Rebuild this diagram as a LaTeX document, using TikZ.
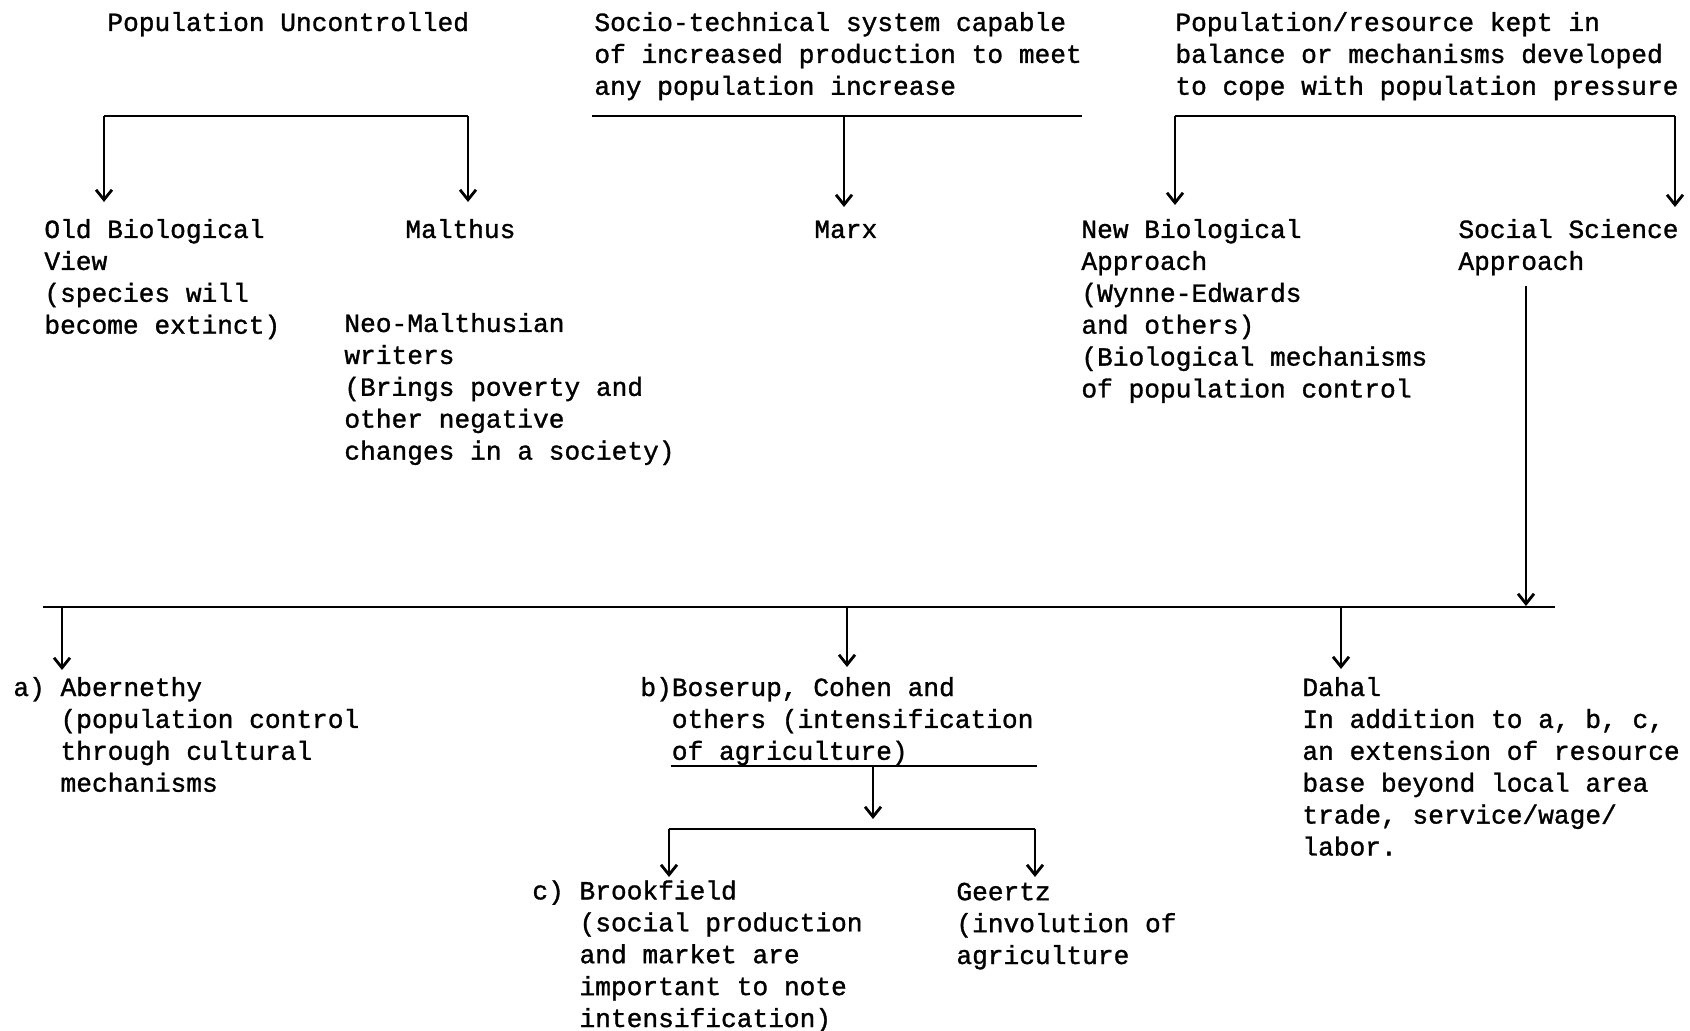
\documentclass[tikz,border=0pt]{standalone}
\usepackage{fontspec}
\setmonofont{Liberation Mono}[FakeBold=1.2]
\usetikzlibrary{arrows.meta}
\begin{document}
\begin{tikzpicture}[x=0.5pt,y=-0.5pt,
  txt/.style={font=\ttfamily\fontsize{13.1}{15.95}\selectfont, anchor=base west, inner sep=0pt, align=left},
  conn/.style={line width=1.4pt},
  arr/.style={conn, -{Straight Barb[length=5pt,width=8pt]}}]
\useasboundingbox (0,0) rectangle (1690,1031);
% texts (placed at the baseline of their last line)
\node[txt] (pu) at (107,31) {Population Uncontrolled};
\node[txt] (st) at (594,94.8) {Socio-technical system capable\\of increased production to meet\\any population increase};
\node[txt] (pr) at (1175,94.8) {Population/resource kept in\\balance or mechanisms developed\\to cope with population pressure};
\node[txt] (obv) at (44,333.7) {Old Biological\\View\\(species will\\become extinct)};
\node[txt] (mal) at (405,238) {Malthus};
\node[txt] (neo) at (344,459.6) {Neo-Malthusian\\writers\\(Brings poverty and\\other negative\\changes in a society)};
\node[txt] (marx) at (814,238) {Marx};
\node[txt] (nba) at (1081,397.5) {New Biological\\Approach\\(Wynne-Edwards\\and others)\\(Biological mechanisms\\of population control};
\node[txt] (ssa) at (1458,269.9) {Social Science\\Approach};
\node[txt] (ab) at (13,791.7) {a)~Abernethy\\\hphantom{a)~}(population control\\\hphantom{a)~}through cultural\\\hphantom{a)~}mechanisms};
\node[txt] (bos) at (640,759.8) {b)Boserup, Cohen and\\\hphantom{b)}others (intensification\\\hphantom{b)}of agriculture)};
\node[txt] (dah) at (1302,855.5) {Dahal\\In addition to a, b, c,\\an extension of resource\\base beyond local area\\trade, service/wage/\\labor.};
\node[txt] (bro) at (532,1027) {c)~Brookfield\\\hphantom{c)~}(social production\\\hphantom{c)~}and market are\\\hphantom{c)~}important to note\\\hphantom{c)~}intensification)};
\node[txt] (gee) at (956,964) {Geertz\\(involution of\\agriculture};
% bracket 1
\coordinate (l1a) at (104,116); \coordinate (l1b) at (468,116);
\coordinate (t1a) at (104,202); \coordinate (t1b) at (468,202);
\draw[conn] (l1a) -- (l1b);
\draw[arr] (l1a) -- (t1a);
\draw[arr] (l1b) -- (t1b);
% bracket 2
\coordinate (l2a) at (592,116); \coordinate (l2b) at (1082,116);
\coordinate (l2m) at (844,116); \coordinate (t2m) at (844,207);
\draw[conn] (l2a) -- (l2b);
\draw[arr] (l2m) -- (t2m);
% bracket 3
\coordinate (l3a) at (1175,116); \coordinate (l3b) at (1675,116);
\coordinate (t3a) at (1175,205); \coordinate (t3b) at (1675,207);
\draw[conn] (l3a) -- (l3b);
\draw[arr] (l3a) -- (t3a);
\draw[arr] (l3b) -- (t3b);
% social science down
\coordinate (ss0) at (1526,286); \coordinate (ss1) at (1526,606);
\draw[arr] (ss0) -- (ss1);
% bottom line
\coordinate (l4a) at (43,607); \coordinate (l4b) at (1555,607);
\draw[conn] (l4a) -- (l4b);
\coordinate (d1) at (62,607); \coordinate (e1) at (62,670);
\coordinate (d2) at (847,607); \coordinate (e2) at (847,667);
\coordinate (d3) at (1341,607); \coordinate (e3) at (1341,669);
\draw[arr] (d1) -- (e1);
\draw[arr] (d2) -- (e2);
\draw[arr] (d3) -- (e3);
% underline b
\coordinate (u1) at (671,766); \coordinate (u2) at (1037,766);
\draw[conn] (u1) -- (u2);
\coordinate (um) at (873,766); \coordinate (ut) at (873,819);
\draw[arr] (um) -- (ut);
% bracket c
\coordinate (l5a) at (669,829); \coordinate (l5b) at (1035,829);
\coordinate (t5a) at (669,877); \coordinate (t5b) at (1035,877);
\draw[conn] (l5a) -- (l5b);
\draw[arr] (l5a) -- (t5a);
\draw[arr] (l5b) -- (t5b);
\end{tikzpicture}
\end{document}
